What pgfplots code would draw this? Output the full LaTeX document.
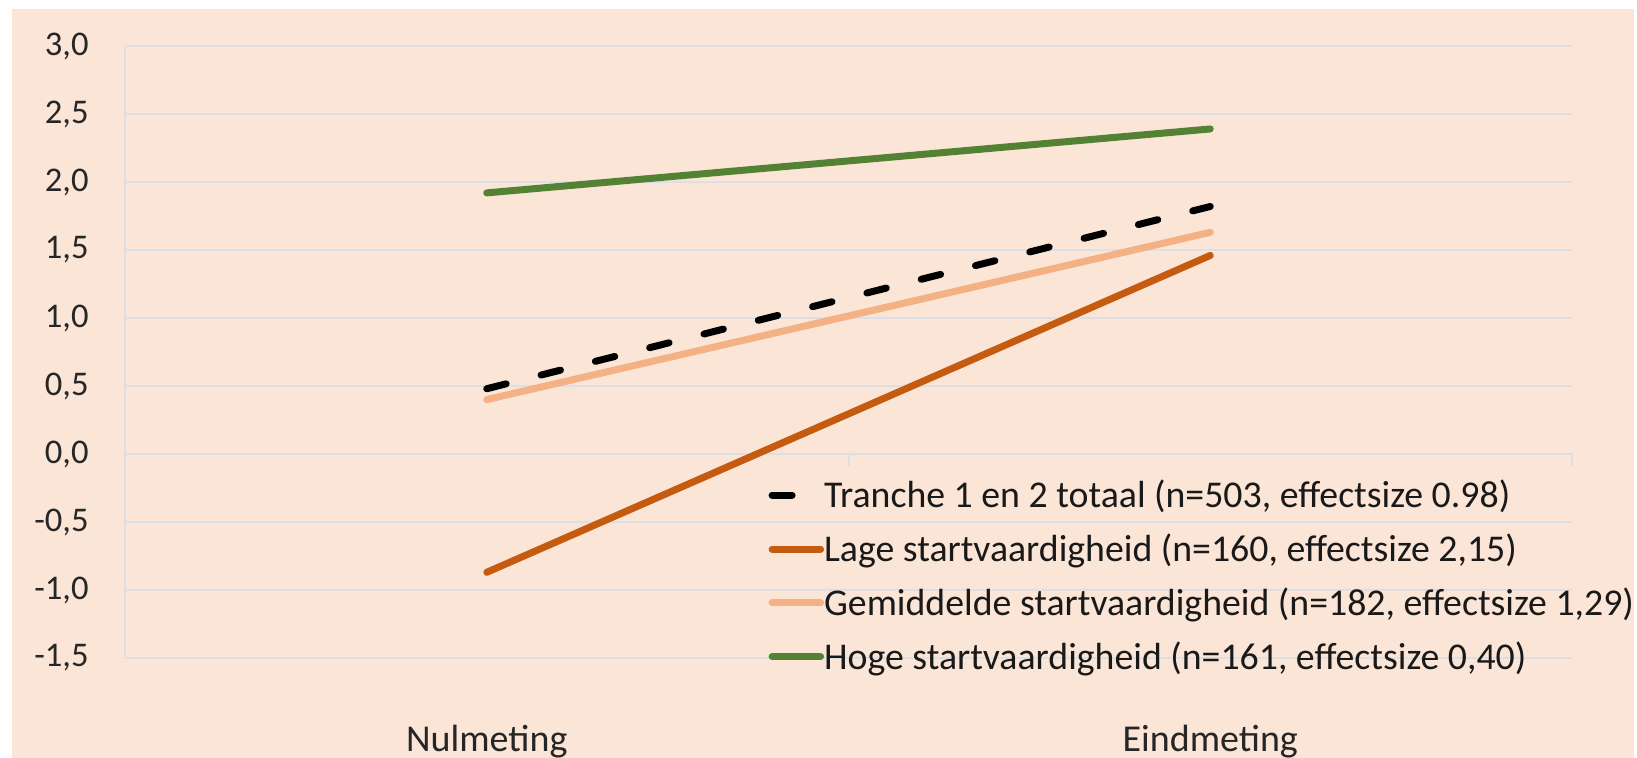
\documentclass[border=0pt]{standalone}
\usepackage{fontspec}
\setmainfont{Carlito}
\usepackage{pgfplots}
\pgfplotsset{compat=1.18}
\definecolor{bgc}{HTML}{FBE5D6}
\definecolor{gridc}{HTML}{DCE0E4}
\definecolor{cgreen}{HTML}{548235}
\definecolor{cdark}{HTML}{C55A11}
\definecolor{clight}{HTML}{F4B183}
\begin{document}
\begin{tikzpicture}
\useasboundingbox (0,0) rectangle (818.5bp,379bp);
\fill[white] (0,0) rectangle (818.5bp,379bp);
\fill[bgc] (6bp,0) rectangle (817bp,374.5bp);
\begin{axis}[
  at={(62.5bp,50bp)}, anchor=south west,
  width=723.5bp, height=306bp, scale only axis,
  xmin=-0.5, xmax=1.5, ymin=-1.5, ymax=3,
  axis background/.style={fill=none},
  separate axis lines,
  x axis line style={draw=none},
  y axis line style={draw=gridc, line width=1bp},
  axis y line*=left, axis x line*=bottom,
  xtick={0,1}, xticklabels={Nulmeting,Eindmeting},
  ytick={-1.5,-1,-0.5,0,0.5,1,1.5,2,2.5,3},
  major tick length=0pt,
  tick style={draw=none},
  ymajorgrids, grid style={draw=gridc, line width=1bp},
  yticklabel style={font=\fontsize{17.3bp}{20bp}\selectfont, inner sep=0pt, xshift=-18bp, text=black!85},
  xticklabel style={font=\fontsize{19bp}{22bp}\selectfont, anchor=base, yshift=-46.5bp, inner sep=0pt, text=black!85},
  /pgf/number format/.cd, use comma, fixed, fixed zerofill, precision=1, assume math mode=true,
  /pgfplots/.cd,
  legend cell align=left,
  legend style={at={(0.4445,0.295)}, anchor=north west, draw=none, fill=none,
    inner sep=0pt, font=\fontsize{18.9bp}{22bp}\selectfont, text=black!90,
    nodes={inner sep=1bp}, row sep=9.6bp,
    /tikz/every odd column/.append style={column sep=-1bp},
    /tikz/every even column/.append style={column sep=0pt}},
  legend image code/.code={\draw[#1] (1.75bp,0bp) -- (26bp,0bp);},
  every axis plot/.append style={line width=3.5bp, line cap=round},
  clip=false,
]
\draw[gridc, line width=1bp] (axis cs:0.5,0) -- ([yshift=-6bp]axis cs:0.5,0);
\draw[gridc, line width=1bp] (axis cs:1.5,0) -- ([yshift=-6bp]axis cs:1.5,0);
\addplot[black, dash pattern=on 10bp off 18bp] coordinates {(0,0.48) (1,1.82)};
\addlegendentry{Tranche 1 en 2 totaal (n=503, effectsize 0.98)}
\addplot[cdark] coordinates {(0,-0.87) (1,1.46)};
\addlegendentry{Lage startvaardigheid (n=160, effectsize 2,15)}
\addplot[clight] coordinates {(0,0.40) (1,1.63)};
\addlegendentry{Gemiddelde startvaardigheid (n=182, effectsize 1,29)}
\addplot[cgreen] coordinates {(0,1.92) (1,2.39)};
\addlegendentry{Hoge startvaardigheid (n=161, effectsize 0,40)}
\end{axis}
\end{tikzpicture}
\end{document}
